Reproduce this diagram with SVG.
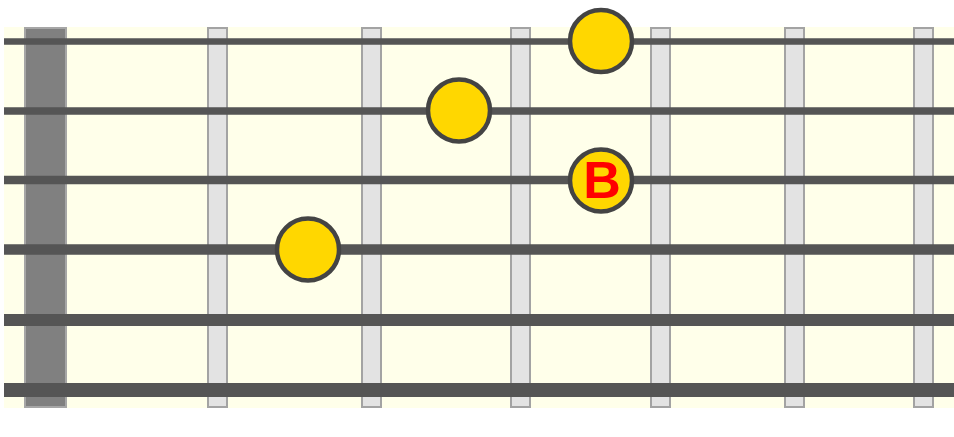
<svg xmlns="http://www.w3.org/2000/svg" width="954" height="437" viewBox="0 0 954 437">
<style>
.bg{fill:#FFFFEA}
.nut{fill:#808080;stroke:#A6A6A6;stroke-width:2}
.fret{fill:#E3E3E3;stroke:#A3A3A3;stroke-width:2}
.str{stroke:#555555;stroke-linecap:butt}
.dot{fill:#FFD700;stroke:#444444;stroke-width:4.5}
.lbl{font-family:"Liberation Sans",Arial,sans-serif;font-weight:bold;font-size:52px;fill:#FF0000;text-anchor:middle}
</style>
<rect class="bg" x="4" y="27" width="950" height="381"/>
<g id="nut"><rect class="nut" x="25" y="28" width="41" height="379"/></g>
<g id="frets">
<rect class="fret" x="208" y="28" width="19" height="379"/>
<rect class="fret" x="362" y="28" width="19" height="379"/>
<rect class="fret" x="511" y="28" width="19" height="379"/>
<rect class="fret" x="651" y="28" width="19" height="379"/>
<rect class="fret" x="785" y="28" width="19" height="379"/>
<rect class="fret" x="914" y="28" width="19" height="379"/>
</g>
<g id="connectors">
<line class="str" x1="4" y1="41.5" x2="954" y2="41.5" stroke-width="6.5"/>
<line class="str" x1="4" y1="111" x2="954" y2="111" stroke-width="7.5"/>
<line class="str" x1="4" y1="180" x2="954" y2="180" stroke-width="8.5"/>
<line class="str" x1="4" y1="249.5" x2="954" y2="249.5" stroke-width="10.5"/>
<line class="str" x1="4" y1="320" x2="954" y2="320" stroke-width="12"/>
<line class="str" x1="4" y1="390" x2="954" y2="390" stroke-width="14"/>
</g>
<g id="note1"><circle class="dot" cx="601" cy="41" r="31"/></g>
<g id="note2"><circle class="dot" cx="459" cy="110.5" r="31"/></g>
<g id="note3"><circle class="dot" cx="601" cy="180.5" r="31"/><text class="lbl" x="602" y="197.5">B</text></g>
<g id="note4"><circle class="dot" cx="308" cy="249.5" r="31"/></g>
</svg>
